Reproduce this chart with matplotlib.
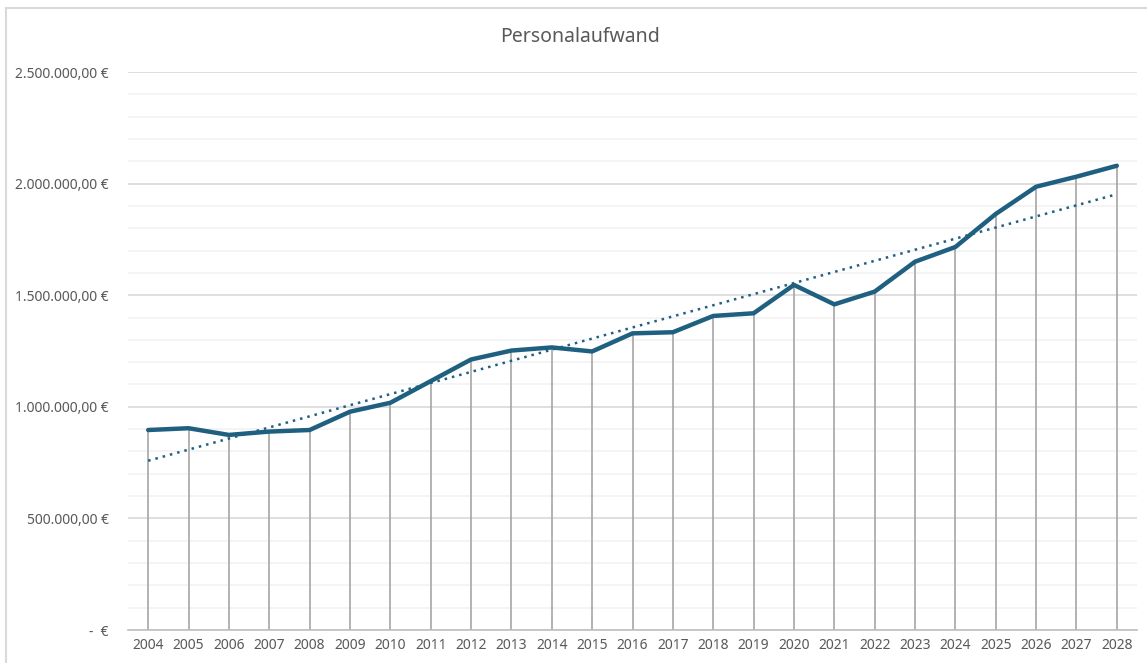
import numpy as np
import matplotlib.pyplot as plt
from matplotlib.ticker import FuncFormatter, MultipleLocator
from matplotlib.lines import Line2D

# Jahre und Personalaufwand (EUR)
jahre = list(range(2004, 2029))
aufwand = [896000, 904000, 874000, 889000, 896000, 978000, 1018000, 1115000,
           1212000, 1252000, 1266000, 1248000, 1329000, 1334000, 1407000, 1419000,
           1546000, 1459000, 1516000, 1650000, 1716000, 1864000, 1986000, 2031000,
           2080000]
titel = 'Personalaufwand'

linie_farbe = '#1f6080'
grau_text = '#595959'

plt.rcParams['font.family'] = ['Noto Sans', 'DejaVu Sans']


def euro_format(v, pos):
    if abs(v) < 1:
        return '-  €'
    s = f'{v:,.2f}'
    s = s.replace(',', 'X').replace('.', ',').replace('X', '.')
    return s + ' €'


fig = plt.figure(figsize=(11.47, 6.63), dpi=100)
ax = fig.add_axes([128 / 1147, 33 / 663, 1009 / 1147, 558 / 663])

# Rahmen des Diagrammbereichs
fig.add_artist(Line2D([6 / 1147, 6 / 1147], [0, 1 - 8 / 663], transform=fig.transFigure,
                      color='#d9d9d9', lw=1.5))
fig.add_artist(Line2D([6 / 1147, 1], [1 - 8 / 663, 1 - 8 / 663], transform=fig.transFigure,
                      color='#d9d9d9', lw=1.5))

x = np.array(jahre)
y = np.array(aufwand)

# Lotlinien
ax.vlines(x, 0, y, color='#a6a6a6', lw=1.2, zorder=2)

# Datenreihe
ax.plot(x, y, color=linie_farbe, lw=3.2, solid_capstyle='round', zorder=4)

# lineare Trendlinie
k, d = np.polyfit(x, y, 1)
ax.plot(x, k * x + d, color=linie_farbe, lw=1.8, linestyle=(0, (1, 2)), zorder=3)

ax.set_xlim(2003.5, 2028.5)
ax.set_ylim(0, 2500000)
ax.set_xticks(jahre)
ax.set_xticklabels([str(j) for j in jahre])
ax.yaxis.set_major_locator(MultipleLocator(500000))
ax.yaxis.set_minor_locator(MultipleLocator(100000))
ax.yaxis.set_major_formatter(FuncFormatter(euro_format))

ax.grid(axis='y', which='major', color='#d9d9d9', lw=1.2, zorder=0)
ax.grid(axis='y', which='minor', color='#f2f2f2', lw=1.2, zorder=0)
ax.set_axisbelow(True)

for s in ['top', 'right', 'left']:
    ax.spines[s].set_visible(False)
ax.spines['bottom'].set_color('#bfbfbf')
ax.spines['bottom'].set_linewidth(1.2)

ax.tick_params(axis='both', which='both', length=0, labelsize=10, labelcolor=grau_text)
ax.tick_params(axis='y', pad=14)
ax.tick_params(axis='x', pad=6)

fig.text(580 / 1147, 1 - 37 / 663, titel, ha='center', va='center', fontsize=14, color=grau_text)

fig.savefig('out.png', dpi=100, facecolor='white')
